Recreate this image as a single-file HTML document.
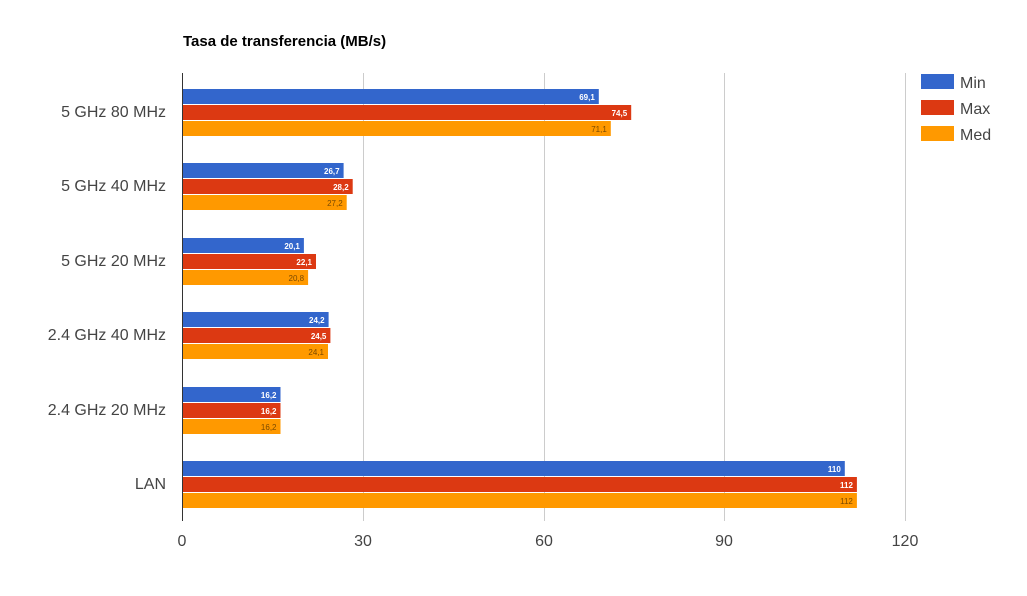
<!DOCTYPE html>
<html><head><meta charset="utf-8"><style>
body{margin:0;background:#fff;}
text{font-family:"Liberation Sans",Arial,sans-serif;}
</style></head><body>
<svg width="1027" height="591" xmlns="http://www.w3.org/2000/svg">
<rect width="1027" height="591" fill="#fff"/>
<text x="183" y="46" font-size="15" font-weight="bold" fill="#000">Tasa de transferencia (MB/s)</text>
<g stroke="#ccc" stroke-width="1">
<line x1="363.5" y1="73" x2="363.5" y2="521"/>
<line x1="544.5" y1="73" x2="544.5" y2="521"/>
<line x1="724.5" y1="73" x2="724.5" y2="521"/>
<line x1="905.5" y1="73" x2="905.5" y2="521"/>
</g>
<g font-size="16" fill="#444" text-anchor="middle">
<text x="182" y="546">0</text><text x="363" y="546">30</text><text x="544" y="546">60</text><text x="724" y="546">90</text><text x="905" y="546">120</text>
</g>
<g font-size="16" fill="#444" text-anchor="end">
<text x="166" y="117">5 GHz 80 MHz</text>
<text x="166" y="191">5 GHz 40 MHz</text>
<text x="166" y="266">5 GHz 20 MHz</text>
<text x="166" y="340">2.4 GHz 40 MHz</text>
<text x="166" y="415">2.4 GHz 20 MHz</text>
<text x="166" y="489">LAN</text>
</g>
<g id="bars"></g>
<line x1="182.5" y1="73" x2="182.5" y2="521" stroke="#333"/>
<g font-size="16" fill="#444">
<rect x="921" y="74" width="33" height="15" fill="#3366cc"/><text x="960" y="88">Min</text>
<rect x="921" y="100" width="33" height="15" fill="#dc3912"/><text x="960" y="114">Max</text>
<rect x="921" y="126" width="33" height="15" fill="#ff9900"/><text x="960" y="140">Med</text>
</g>
</svg>
<script>
var d=[[69.1,74.5,71.1,"69,1","74,5","71,1"],[26.7,28.2,27.2,"26,7","28,2","27,2"],[20.1,22.1,20.8,"20,1","22,1","20,8"],[24.2,24.5,24.1,"24,2","24,5","24,1"],[16.2,16.2,16.2,"16,2","16,2","16,2"],[110,112,112,"110","112","112"]];
var c=["#3366cc","#dc3912","#ff9900"],tc=["#fff","#fff","#7a4a00"];
var g=document.getElementById("bars"),s="";
var starts=[89,163,238,312,387,461];
d.forEach(function(r,i){for(var k=0;k<3;k++){var y=starts[i]+k*16,w=r[k]*722/120;
s+='<rect x="183" y="'+y+'" width="'+w.toFixed(1)+'" height="15" fill="'+c[k]+'"/>';
s+='<text x="'+(183+w-4).toFixed(1)+'" y="'+(y+11)+'" font-size="8" font-weight="'+(k<2?'bold':'normal')+'" text-anchor="end" fill="'+tc[k]+'">'+r[3+k]+'</text>';}});
g.innerHTML=s;
</script>
</body></html>
